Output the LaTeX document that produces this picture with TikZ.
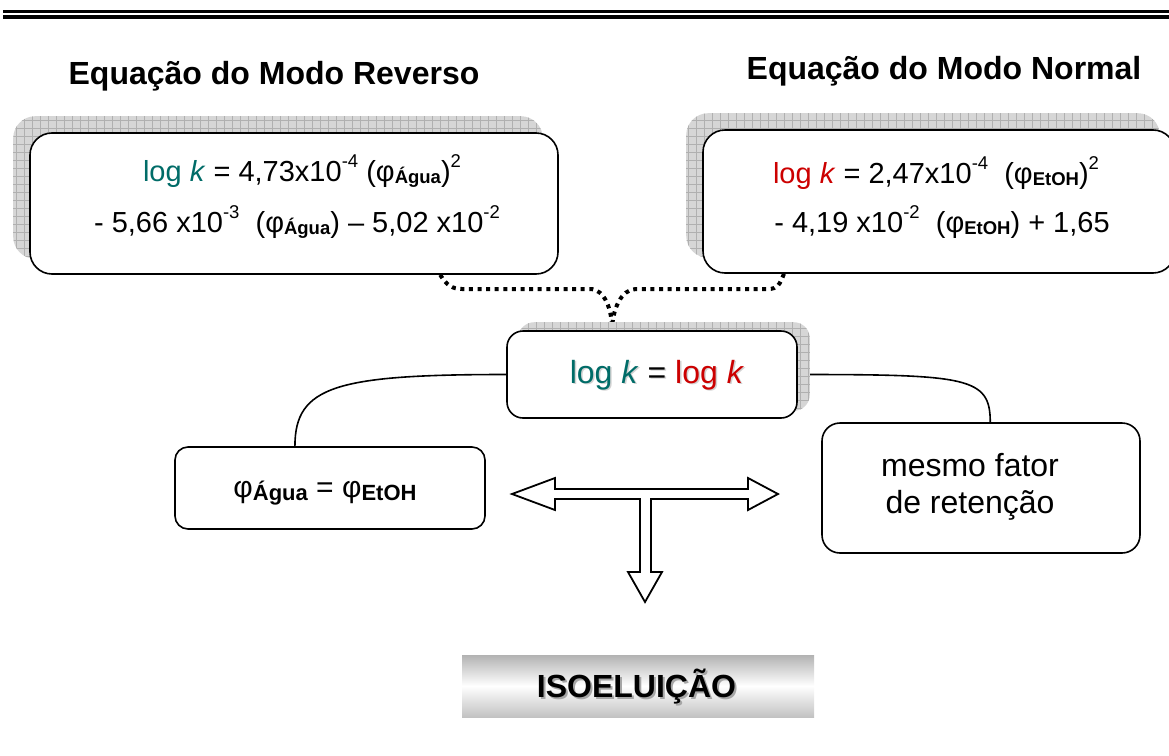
\documentclass[tikz,border=0pt]{standalone}
\usepackage{fontspec}
\setmainfont{Liberation Sans}
\usetikzlibrary{calc}
\definecolor{tealk}{RGB}{0,108,104}
\definecolor{redk}{RGB}{204,0,0}
\newcommand\supx[1]{\raisebox{0.48em}{\fontsize{18.5}{18.5}\selectfont #1}}
\newcommand\subx[1]{\raisebox{-0.1em}{\fontsize{18.5}{18.5}\selectfont\bfseries #1}}
\newcommand\shadowrect[4]{%
  \begin{scope}
    \clip[rounded corners=#4] ([shift={(#2,#3)}]#1.south west) rectangle ([shift={(#2,#3)}]#1.north east);
    \fill[gray!32] ([shift={(#2,#3)}]#1.south west) rectangle ([shift={(#2,#3)}]#1.north east);
    \draw[gray!62,line width=0.6pt,step=8pt] ([shift={(#2,#3)}]#1.south west) grid ([shift={(#2,#3)}]#1.north east);
  \end{scope}}
\pgfdeclarelayer{bg}
\pgfdeclarelayer{sh}
\pgfsetlayers{bg,sh,main}
\begin{document}
\begin{tikzpicture}[x=1pt,y=-1pt,
  box/.style={draw, line width=1.6pt, fill=white, rounded corners=#1, inner sep=0pt},
  eq/.style={anchor=base, inner sep=0pt, font=\fontsize{29}{34}\selectfont},
  ttl/.style={anchor=base, inner sep=0pt, font=\fontsize{32}{36}\selectfont\bfseries},
  con/.style={line width=1.6pt},
  dotc/.style={line width=4pt, dash pattern=on 4pt off 4.6pt},
  tarrow/.style={draw, line width=1.8pt, fill=white, line join=miter}]
\useasboundingbox (0,0) rectangle (1169,755);

% top rules
\draw[line width=3pt] (3,11.5) -- (1169,11.5);
\draw[line width=4pt] (3,17.2) -- (1169,17.2);

% titles
\node[ttl] (t1) at (274,84) {Equação do Modo Reverso};
\node[ttl] (t2) at (944,79) {Equação do Modo Normal};

% boxes
\node[box=22pt, minimum width=528pt, minimum height=141pt] (r1) at (294,203.5) {};
\node[box=22pt, minimum width=472pt, minimum height=143pt] (r2) at (939,201.5) {};
\node[box=16pt, minimum width=290pt, minimum height=87pt] (c) at (652,374.5) {};
\node[box=13pt, minimum width=310pt, minimum height=82pt] (r4) at (330,488) {};
\node[box=18pt, minimum width=318pt, minimum height=130pt] (r5) at (981,488) {};

% shadows
\begin{pgfonlayer}{sh}
  \shadowrect{r1}{-16}{-16}{22pt}
  \shadowrect{r2}{-16}{-16}{22pt}
  \shadowrect{c}{12}{-8}{16pt}
\end{pgfonlayer}

% equations
\node[eq] (r1a) at (302,181) {{\color{tealk}log \textit{k}} = 4,73x10\supx{-4} (φ\subx{Água})\supx{2}};
\node[eq] (r1b) at (297,232) {- 5,66 x10\supx{-3}\ \ (φ\subx{Água}) – 5,02 x10\supx{-2}};
\node[eq] (r2a) at (936,183) {{\color{redk}log \textit{k}} = 2,47x10\supx{-4}\ \ (φ\subx{EtOH})\supx{2}};
\node[eq] (r2b) at (942,232) {- 4,19 x10\supx{-2}\ \ (φ\subx{EtOH}) + 1,65};

% center equation with faint shadow
\node[anchor=base, inner sep=0pt, font=\fontsize{32}{36}\selectfont, text=gray!35] (cs) at (658.5,384.5) {log \textit{k} = log \textit{k}};
\node[anchor=base, inner sep=0pt, font=\fontsize{32}{36}\selectfont] (ct) at (657,383) {{\color{tealk}log \textit{k}} = {\color{redk}log \textit{k}}};

% phi box
\node[anchor=base, inner sep=0pt, font=\fontsize{30}{34}\selectfont] (r4t) at (325,497) {φ\raisebox{-0.1em}{\fontsize{22}{22}\selectfont\bfseries Água} = φ\raisebox{-0.1em}{\fontsize{22}{22}\selectfont\bfseries EtOH}};

% retention box
\node[align=center, inner sep=0pt, font=\fontsize{32}{37}\selectfont] (r5t) at (970,487) {mesmo fator\\ de retenção};

% connectors
\begin{pgfonlayer}{bg}
  \draw[con] (c.west) .. controls +(-170,0) and +(0,-60) .. (r4.130);
  \draw[con] (c.east) .. controls +(170,0) and +(0,-45) .. (r5.82);
  \draw[dotc] (r1.-26) .. controls +(6,10) and +(-10,0) .. (462,289) -- (590,289) .. controls +(15,0) and +(0,-20) .. (c.132);
  \draw[dotc] (r2.-155.5) .. controls +(-4,10) and +(10,0) .. (768,289) -- (636,289) .. controls +(-15,0) and +(0,-20) .. (c.132);
\end{pgfonlayer}

% T-shaped block arrow
\draw[tarrow] (512,494) -- (555,478) -- (555,489) -- (748,489) -- (748,478) -- (778,494)
  -- (748,510) -- (748,499) -- (651,499) -- (651,572) -- (662,572) -- (645,602)
  -- (628,572) -- (640,572) -- (640,499) -- (555,499) -- (555,510) -- cycle;

% ISOELUICAO
\node[minimum width=352pt, minimum height=62pt, inner sep=0pt, top color=gray!60, bottom color=gray!48, middle color=white] (iso) at (638,686) {};
\node[anchor=base, inner sep=0pt, font=\fontsize{32}{36}\selectfont\bfseries, text=gray!70] (isos) at (638.5,699.5) {ISOELUIÇÃO};
\node[anchor=base, inner sep=0pt, font=\fontsize{32}{36}\selectfont\bfseries] (isot) at (636.5,697.5) {ISOELUIÇÃO};
\end{tikzpicture}
\end{document}
